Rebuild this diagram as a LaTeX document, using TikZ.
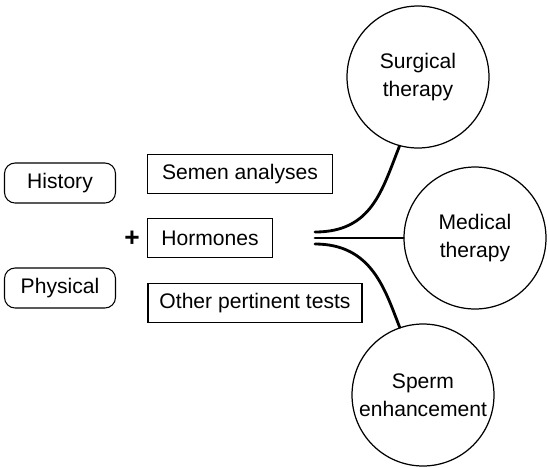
\documentclass[tikz,border=0pt]{standalone}
\usepackage{fontspec}
\setmainfont{Liberation Sans}
\usepackage{tikz}

\begin{document}
\begin{tikzpicture}[x=0.02cm,y=-0.02cm,font=\fontsize{12}{16}\selectfont,line cap=round,
  roundbox/.style={draw,rounded corners=6pt,line width=0.6pt,minimum height=0.8cm,minimum width=2.22cm,inner sep=2pt},
  testbox/.style={draw,line width=0.6pt,minimum height=0.79cm,inner sep=2pt},
  outcome/.style={draw,circle,line width=0.7pt,minimum size=2.84cm,inner sep=0pt,align=center},
  branch/.style={line width=1.6pt}]
\useasboundingbox (0,0) rectangle (547,467);
\node[roundbox] (history) at (60,183) {History};
\node[roundbox] (physical) at (60,288) {Physical};
\node[font=\fontsize{15}{16}\selectfont] (plus) at (132,239) {\textbf{+}};
\node[testbox,minimum width=3.7cm] (semen) at (240,174) {Semen analyses};
\node[testbox,minimum width=2.5cm] (hormones) at (210,238) {Hormones};
\node[testbox,minimum width=4.28cm] (other) at (255,303) {Other pertinent tests};
\node[outcome] (surgical) at (418,77) {Surgical\\therapy};
\node[outcome] (medical) at (475,238) {Medical\\therapy};
\node[outcome] (sperm) at (423,395) {Sperm\\enhancement};
\coordinate (forkA) at (315,232);
\coordinate (forkB) at (315,238);
\coordinate (forkC) at (315,244);
\draw[branch] (forkA) .. controls (372,232) and (382,190) .. (surgical.255);
\draw[branch] (forkB) -- (medical.west);
\draw[branch] (forkC) .. controls (372,244) and (385,290) .. (sperm.109);
\end{tikzpicture}
\end{document}
